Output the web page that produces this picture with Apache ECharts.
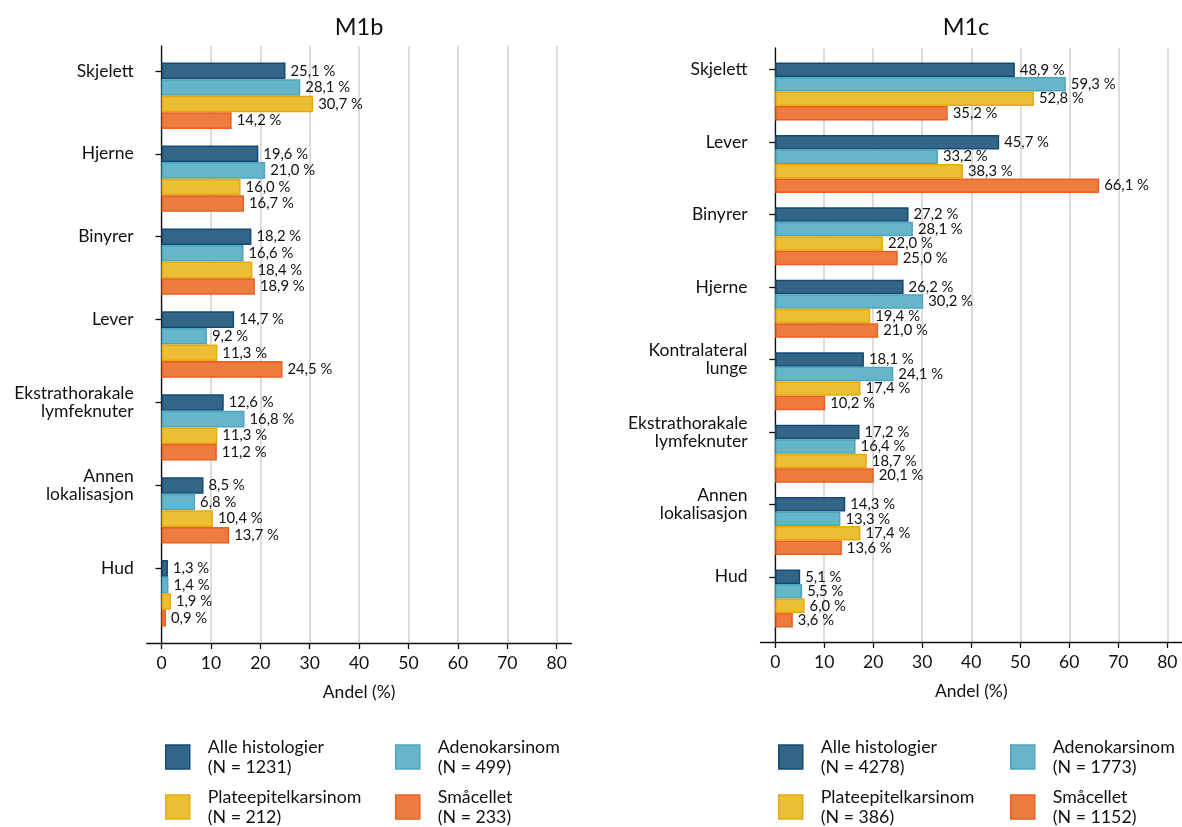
<!DOCTYPE html>
<html>
<head>
<meta charset="utf-8">
<script src="https://cdn.jsdelivr.net/npm/echarts@6/dist/echarts.min.js"></script>
<style>
  html, body { margin: 0; padding: 0; background: #fff; }
  #chart { width: 1182px; height: 827px; }
</style>
</head>
<body>
<div id="chart"></div>
<script>
// Metastaselokalisasjon, andel (%) per histologi — M1b og M1c
const seriesNames = ['Alle histologier', 'Adenokarsinom', 'Plateepitelkarsinom', 'Småcellet'];

const m1bCategories = ['Skjelett', 'Hjerne', 'Binyrer', 'Lever', 'Ekstrathorakale\nlymfeknuter', 'Annen\nlokalisasjon', 'Hud'];
const m1bAlle   = [25.1, 19.6, 18.2, 14.7, 12.6, 8.5, 1.3];
const m1bAdeno  = [28.1, 21.0, 16.6, 9.2, 16.8, 6.8, 1.4];
const m1bPlate  = [30.7, 16.0, 18.4, 11.3, 11.3, 10.4, 1.9];
const m1bSmaa   = [14.2, 16.7, 18.9, 24.5, 11.2, 13.7, 0.9];
const m1bN      = [1231, 499, 212, 233];

const m1cCategories = ['Skjelett', 'Lever', 'Binyrer', 'Hjerne', 'Kontralateral\nlunge', 'Ekstrathorakale\nlymfeknuter', 'Annen\nlokalisasjon', 'Hud'];
const m1cAlle   = [48.9, 45.7, 27.2, 26.2, 18.1, 17.2, 14.3, 5.1];
const m1cAdeno  = [59.3, 33.2, 28.1, 30.2, 24.1, 16.4, 13.3, 5.5];
const m1cPlate  = [52.8, 38.3, 22.0, 19.4, 17.4, 18.7, 17.4, 6.0];
const m1cSmaa   = [35.2, 66.1, 25.0, 21.0, 10.2, 20.1, 13.6, 3.6];
const m1cN      = [4278, 1773, 386, 1152];

const xTicks = [0, 10, 20, 30, 40, 50, 60, 70, 80];

const fills   = ['#336587', '#67b5c9', '#ebbe35', '#ee7b40'];
const borders = ['#154a75', '#4aa6c2', '#e6aa0a', '#e8611e'];
const FONT = 'Lato';

// Each location gets four bar slots, with one empty slot between groups
// and one empty slot above and below the whole set.
function buildSlots(cats) {
  const keys = ['pad-top'];
  const labels = {};
  cats.forEach((c, g) => {
    for (let i = 0; i < 4; i++) {
      const k = g + '-' + i;
      keys.push(k);
      if (i === 0) labels[k] = c;
    }
    if (g < cats.length - 1) keys.push('gap-' + g);
  });
  keys.push('pad-bottom');
  return { keys, labels };
}

function fmtPct(v) {
  return v.toFixed(1).replace('.', ',') + ' %';
}

const option = {
  animation: false,
  backgroundColor: '#fff',
  textStyle: { fontFamily: FONT },
  title: [
    { text: 'M1b', left: 359, top: 15, textAlign: 'center', padding: 0,
      textStyle: { fontFamily: FONT, fontSize: 23.5, fontWeight: 'normal', color: '#111' } },
    { text: 'M1c', left: 966, top: 15, textAlign: 'center', padding: 0,
      textStyle: { fontFamily: FONT, fontSize: 23.5, fontWeight: 'normal', color: '#111' } }
  ],
  grid: [],
  xAxis: [],
  yAxis: [],
  legend: [],
  series: []
};

const panels = [
  { cats: m1bCategories, values: [m1bAlle, m1bAdeno, m1bPlate, m1bSmaa], n: m1bN,
    grid: { left: 146.7, top: 46, width: 424.8, height: 597 },
    legendX: [165, 395] },
  { cats: m1cCategories, values: [m1cAlle, m1cAdeno, m1cPlate, m1cSmaa], n: m1cN,
    grid: { left: 760.5, top: 48, width: 425.7, height: 594 },
    legendX: [778, 1010] }
];

panels.forEach((p, pi) => {
  const { keys, labels } = buildSlots(p.cats);
  const isLabelled = (idx) => labels[keys[idx]] !== undefined;

  option.grid.push(Object.assign({ containLabel: false }, p.grid));

  option.xAxis.push({
    gridIndex: pi,
    type: 'value',
    min: -3,
    max: 83,
    name: 'Andel (%)',
    nameLocation: 'middle',
    nameGap: 40,
    nameTextStyle: { fontFamily: FONT, fontSize: 17.5, color: '#111' },
    axisLine: { show: true, onZero: false, lineStyle: { color: '#111', width: 1.3 } },
    axisTick: { show: true, length: 6, customValues: xTicks, lineStyle: { color: '#111', width: 1.3 } },
    axisLabel: { customValues: xTicks, margin: 11, fontFamily: FONT, fontSize: 17.5, color: '#111' },
    splitLine: { show: true, lineStyle: { color: '#dcdcdc', width: 2 } }
  });

  option.yAxis.push({
    gridIndex: pi,
    type: 'category',
    inverse: true,
    data: keys,
    boundaryGap: true,
    axisLine: { show: true, lineStyle: { color: '#111', width: 1.3 } },
    axisTick: { show: true, length: 6, alignWithLabel: true,
      interval: (idx) => isLabelled(idx),
      lineStyle: { color: '#111', width: 1.3 } },
    axisLabel: {
      interval: (idx) => isLabelled(idx),
      formatter: (k) => labels[k] || '',
      margin: 13, align: 'right',
      fontFamily: FONT, fontSize: 17.5, lineHeight: 18, color: '#111'
    },
    splitLine: { show: false }
  });

  seriesNames.forEach((sn, si) => {
    const name = sn + '\n(N = ' + p.n[si] + ')';
    const data = keys.map(k => {
      const m = /^(\d+)-(\d)$/.exec(k);
      if (m && +m[2] === si) return p.values[si][+m[1]];
      return '-';
    });
    option.series.push({
      type: 'bar',
      name: name,
      xAxisIndex: pi,
      yAxisIndex: pi,
      stack: 'panel' + pi,
      barCategoryGap: '0%',
      data: data,
      itemStyle: { color: fills[si], borderColor: borders[si], borderWidth: 1.5 },
      label: {
        show: true, position: 'right', distance: 5,
        fontFamily: FONT, fontSize: 14.8, color: '#111',
        formatter: (d) => fmtPct(d.value)
      },
      emphasis: { disabled: true }
    });

    const col = si % 2, row = Math.floor(si / 2);
    option.legend.push({
      data: [name],
      left: p.legendX[col],
      top: row === 0 ? 737 : 787,
      padding: 0,
      itemWidth: 24,
      itemHeight: 24,
      icon: 'rect',
      selectedMode: false,
      itemStyle: { color: fills[si], borderColor: borders[si], borderWidth: 1.5 },
      textStyle: { fontFamily: FONT, fontSize: 17.8, lineHeight: 20, color: '#111', padding: [0, 0, 0, 13] }
    });
  });
});

const chart = echarts.init(document.getElementById('chart'), null, { renderer: 'canvas' });
chart.setOption(option);
</script>
</body>
</html>
